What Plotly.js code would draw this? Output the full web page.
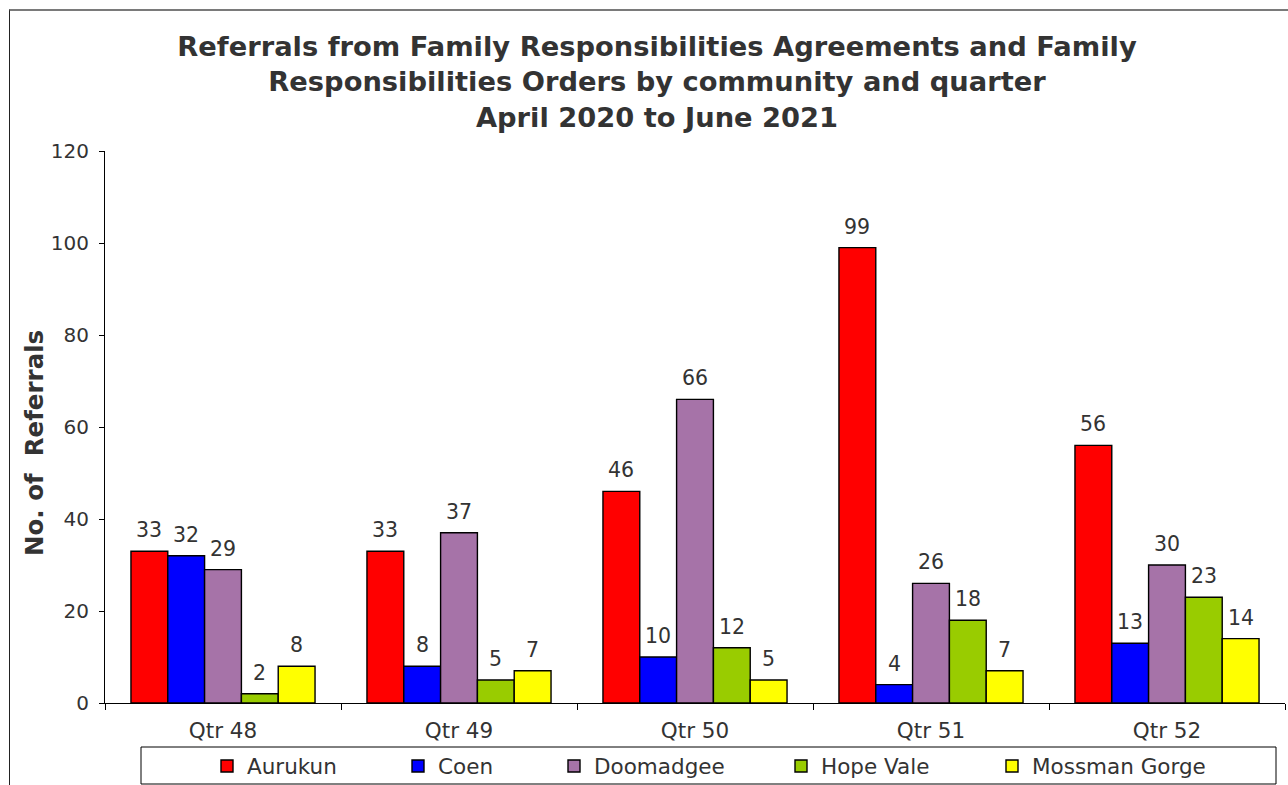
<!DOCTYPE html>
<html>
<head>
<meta charset="utf-8">
<script src="https://cdn.plot.ly/plotly-3.0.1.min.js"></script>
<style>
  html, body { margin: 0; padding: 0; background: #fff; }
  #wrap { position: relative; width: 1288px; height: 785px; overflow: hidden; }
  #chart { position: absolute; left: 0; top: 0; width: 1288px; height: 785px; }
  #frame { position: absolute; left: 9px; top: 9px; width: 1300px; height: 800px;
           border-top: 2px solid #7a7a7a; border-left: 1px solid #222; pointer-events: none; }
</style>
</head>
<body>
<div id="wrap">
  <div id="chart"></div>
  <div id="frame"></div>
</div>
<script>
const quarters = ["Qtr 48", "Qtr 49", "Qtr 50", "Qtr 51", "Qtr 52"];
const communities = ["Aurukun", "Coen", "Doomadgee", "Hope Vale", "Mossman Gorge"];
const aurukun = [33, 33, 46, 99, 56];
const coen = [32, 8, 10, 4, 13];
const doomadgee = [29, 37, 66, 26, 30];
const hopeVale = [2, 5, 12, 18, 23];
const mossmanGorge = [8, 7, 5, 7, 14];
const seriesValues = [aurukun, coen, doomadgee, hopeVale, mossmanGorge];
const colors = ["#FF0000", "#0000FF", "#A673A8", "#99CC00", "#FFFF00"];

const FONT = "DejaVu Sans, Verdana, sans-serif";
const TXT = "#333333";
const BARGAP = 0.22;

const legendIds = ["legend", "legend2", "legend3", "legend4", "legend5"];

const traces = communities.map((name, i) => ({
  type: "bar",
  name: name,
  x: quarters,
  y: seriesValues[i],
  legend: legendIds[i],
  marker: { color: colors[i], line: { color: "#000000", width: 1.4 } },
  hoverinfo: "x+y+name"
}));

// data labels placed on the library's category/value scales
const nS = communities.length;
const slot = (1 - BARGAP) / nS;
const labelAnns = [];
seriesValues.forEach((vals, i) => {
  vals.forEach((v, j) => {
    labelAnns.push({
      xref: "x", yref: "y",
      x: j + (i - (nS - 1) / 2) * slot,
      y: v,
      text: String(v),
      showarrow: false,
      xanchor: "center", yanchor: "bottom",
      yshift: 7,
      font: { family: FONT, size: 20.5, color: TXT }
    });
  });
});

// plot area: x 105..1285, y 151..703
const L = 105, R = 1285, T = 151, B = 703;
const W = R - L, H = B - T;
const px = v => (v - L) / W;
const py = v => (B - v) / H;

const legendLeft = [207, 398, 554, 781, 992];

const layout = {
  width: 1288, height: 785,
  margin: { l: L, r: 1288 - R, t: T, b: 785 - B, autoexpand: false },
  paper_bgcolor: "#ffffff",
  plot_bgcolor: "#ffffff",
  font: { family: FONT, color: TXT, size: 20 },
  barmode: "group",
  bargap: BARGAP,
  bargroupgap: 0,
  title: {
    text: "<b>Referrals from Family Responsibilities Agreements and Family<br>Responsibilities Orders by community and quarter<br>April 2020 to June 2021</b>",
    font: { family: FONT, size: 27.3, color: TXT },
    x: 657 / 1288, xref: "container", xanchor: "center",
    y: 1 - 56 / 785, yref: "container", yanchor: "top"
  },
  xaxis: {
    type: "category",
    showline: true, linecolor: "#000000", linewidth: 1,
    ticks: "outside", tickson: "boundaries", ticklen: 6, tickcolor: "#000000",
    ticklabelstandoff: 8,
    tickfont: { family: FONT, size: 21.5, color: TXT },
    showgrid: false, zeroline: false, fixedrange: true
  },
  yaxis: {
    range: [0, 120], dtick: 20, tick0: 0,
    showline: true, linecolor: "#000000", linewidth: 1,
    ticks: "outside", ticklen: 5, tickcolor: "#000000",
    ticklabelstandoff: 6,
    tickfont: { family: FONT, size: 20, color: TXT },
    showgrid: false, zeroline: false, fixedrange: true
  },
  showlegend: true,
  annotations: labelAnns.concat([{
    text: "<b>No. of\u00a0 Referrals</b>",
    xref: "paper", yref: "paper",
    x: px(34), y: py(443),
    xanchor: "center", yanchor: "middle",
    textangle: -90, showarrow: false,
    font: { family: FONT, size: 24.5, color: TXT }
  }]),
  shapes: [{
    type: "rect", xref: "paper", yref: "paper",
    x0: px(141), x1: px(1276), y0: py(747), y1: py(784),
    line: { color: "#000000", width: 1 }, fillcolor: "rgba(0,0,0,0)", layer: "below"
  }]
};

legendIds.forEach((id, i) => {
  layout[id] = {
    orientation: "h",
    x: px(legendLeft[i]), xanchor: "left",
    y: py(766), yanchor: "middle",
    itemwidth: 30,
    bgcolor: "rgba(0,0,0,0)", borderwidth: 0,
    font: { family: FONT, size: 21.5, color: TXT }
  };
});

Plotly.newPlot("chart", traces, layout, { displayModeBar: false, staticPlot: true });
</script>
</body>
</html>
